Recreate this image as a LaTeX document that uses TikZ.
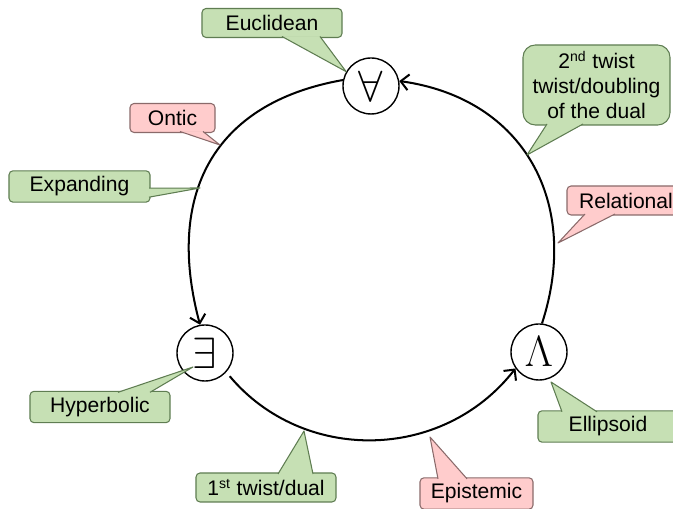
\documentclass[tikz,border=0pt]{standalone}
\usepackage{fontspec}
\setmainfont{Liberation Sans}
\usepackage{xcolor}
\usepackage{tikz}
\usetikzlibrary{arrows.meta}
\usetikzlibrary{calc}

\definecolor{boxgreen}{HTML}{C6E0B4}
\definecolor{edgegreen}{HTML}{5F7D52}
\definecolor{boxred}{HTML}{FFCCCC}
\definecolor{edgered}{HTML}{8A6A6A}

\begin{document}
\begin{tikzpicture}[x=0.2cm,y=0.2cm,
    quant/.style={circle,draw,line width=0.8pt,minimum size=1.12cm,inner sep=0pt,font=\fontsize{23}{25}\selectfont},
    gbox/.style={draw=edgegreen,fill=boxgreen,rounded corners=2.3pt,line width=0.6pt,
      outer sep=0pt,minimum height=0.58cm,font=\fontsize{12}{14.3}\selectfont},
    rbox/.style={gbox,draw=edgered,fill=boxred},
    gtip/.style={draw=edgegreen,fill=boxgreen,line width=0.6pt,line join=round},
    rtip/.style={gtip,draw=edgered,fill=boxred},
    cycleline/.style={-{Straight Barb[length=4.5pt,width=9pt]},line width=1.15pt}]
    \useasboundingbox (0,0) rectangle (67.3,50.9);
    \clip (0,0) rectangle (67.3,50.9);

    % the three quantifier circles
    \node[quant] (fa) at (37.1,42.3) {$\forall$};
    \node[quant] (ex) at (20.5,15.6) {$\exists$};
    \node[quant] (la) at (53.9,15.7) {$\Lambda$};

    \draw[cycleline] (fa.168) to[out=190,in=105,looseness=1.2] (ex.100);
    \draw[cycleline,shorten <=3pt] (ex.-42) to[out=-50,in=232,looseness=1.05] (la.215);
    \draw[cycleline] (la.84) to[out=72,in=-8,looseness=1.15] (fa.10);

    % where the callouts point
    \coordinate (twtip) at (52.7,35.4);
    \coordinate (ontip) at (22.0,36.4);
    \coordinate (xptip) at (20.0,32.1);
    \coordinate (retip) at (55.8,26.6);
    \coordinate (hytip) at (19.3,14.2);
    \coordinate (eltip) at (55.1,12.7);
    \coordinate (tw1tip) at (30.4,7.8);
    \coordinate (eptip) at (43.0,7.2);

    % callouts
    \node[gbox,minimum width=2.8cm] (eu) at (27.2,48.6) {Euclidean};
    \node[gbox,minimum width=2.94cm,minimum height=1.6cm,rounded corners=7pt,align=center]
      (tw) at (59.65,42.4) {2\textsuperscript{nd} twist\\twist/doubling\\of the dual};
    \node[rbox,minimum width=1.7cm] (on) at (17.25,39.1) {Ontic};
    \node[gbox,minimum width=2.82cm] (xp) at (7.95,32.25) {Expanding};
    \node[rbox,minimum width=2.36cm] (re) at (62.6,30.85) {Relational};
    \node[gbox,minimum width=2.8cm] (hy) at (10.0,10.2) {Hyperbolic};
    \node[gbox,minimum width=2.8cm] (el) at (60.8,8.25) {Ellipsoid};
    \node[gbox,minimum width=2.8cm] (tw1) at (26.6,2.15) {1\textsuperscript{st} twist/dual};
    \node[rbox,minimum width=2.26cm] (ep) at (47.65,1.55) {Epistemic};

    \path[gtip] ($(eu.south west)+(8.0,0.1)$) -- (fa.150) -- ($(eu.south west)+(11.8,0.1)$);
    \path[gtip] ($(tw.south west)+(2.4,0.1)$) -- (twtip) -- ($(tw.south west)+(6.0,0.1)$);
    \path[rtip] ($(on.south west)+(5.0,0.1)$) -- (ontip) -- ($(on.south west)+(7.3,0.1)$);
    \path[gtip] ($(xp.south east)+(-0.1,0.5)$) -- (xptip) -- ($(xp.south east)+(-0.1,1.4)$);
    \path[rtip] ($(re.south west)+(1.8,0.1)$) -- (retip) -- ($(re.south west)+(4.8,0.1)$);
    \path[gtip] ($(hy.north west)+(8.8,-0.1)$) -- (hytip) -- ($(hy.north west)+(12.0,-0.1)$);
    \path[gtip] ($(el.north west)+(2.4,-0.1)$) -- (eltip) -- ($(el.north west)+(5.9,-0.1)$);
    \path[gtip] ($(tw1.north west)+(8.2,-0.1)$) -- (tw1tip) -- ($(tw1.north west)+(11.7,-0.1)$);
    \path[rtip] ($(ep.north west)+(1.8,-0.1)$) -- (eptip) -- ($(ep.north west)+(4.7,-0.1)$);
\end{tikzpicture}
\end{document}
